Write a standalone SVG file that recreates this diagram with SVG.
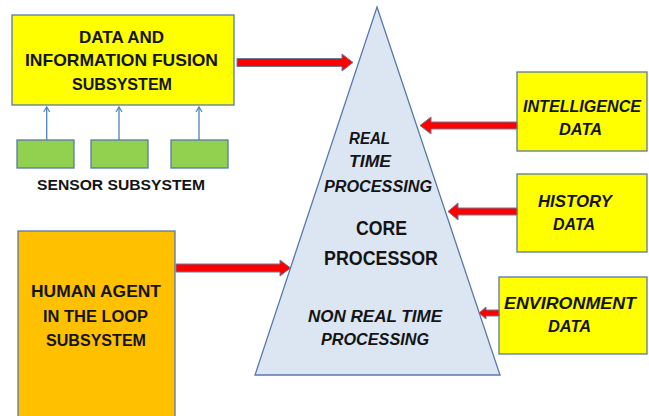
<svg xmlns="http://www.w3.org/2000/svg" width="649" height="416" viewBox="0 0 649 416">
<defs>
<style>
.box{stroke:#5a78a8;stroke-width:1.3}
.yellow{fill:#ffff00}
.green{fill:#92d050}
.orange{fill:#ffc000}
.tri{fill:#dce6f2;stroke:#5a78a8;stroke-width:1.3}
.t{font-family:"Liberation Sans",Arial,sans-serif;font-weight:bold;fill:#141414}
.i{font-style:italic}
.red{fill:#ff0000;stroke:#6a7a98;stroke-width:1}
.thin{stroke:#4f81bd;stroke-width:1.3;fill:none}
</style>
<marker id="chev" markerWidth="8" markerHeight="8" refX="6" refY="4" orient="auto" markerUnits="userSpaceOnUse">
<path d="M1,1 L6,4 L1,7" fill="none" stroke="#4f81bd" stroke-width="1.2"/>
</marker>
</defs>
<rect width="649" height="416" fill="#ffffff"/>

<g id="core-processor">
<polygon class="tri" points="377,7 500,375 255,375"/>
<text class="t i" x="349" y="144" font-size="16" textLength="41" lengthAdjust="spacingAndGlyphs">REAL</text>
<text class="t i" x="349" y="167" font-size="16" textLength="42" lengthAdjust="spacingAndGlyphs">TIME</text>
<text class="t i" x="324" y="191.5" font-size="16" textLength="108" lengthAdjust="spacingAndGlyphs">PROCESSING</text>
<text class="t" x="356" y="235" font-size="20" textLength="51" lengthAdjust="spacingAndGlyphs">CORE</text>
<text class="t" x="324" y="265" font-size="20" textLength="114" lengthAdjust="spacingAndGlyphs">PROCESSOR</text>
<text class="t i" x="308" y="321.5" font-size="16" textLength="134" lengthAdjust="spacingAndGlyphs">NON REAL TIME</text>
<text class="t i" x="321" y="345" font-size="16" textLength="108" lengthAdjust="spacingAndGlyphs">PROCESSING</text>
</g>

<g id="fusion">
<rect class="box yellow" x="12" y="15" width="222" height="90"/>
<text class="t" x="79" y="43" font-size="17" textLength="85" lengthAdjust="spacingAndGlyphs">DATA AND</text>
<text class="t" x="25" y="66" font-size="17" textLength="193" lengthAdjust="spacingAndGlyphs">INFORMATION FUSION</text>
<text class="t" x="72" y="89.5" font-size="17" textLength="100" lengthAdjust="spacingAndGlyphs">SUBSYSTEM</text>
</g>

<g id="sensor-subsystem">
<rect class="box green" x="17" y="140" width="57" height="28"/>
<rect class="box green" x="91" y="140" width="57" height="28"/>
<rect class="box green" x="171" y="140" width="57" height="28"/>
<text class="t" x="37" y="190" font-size="15" textLength="168" lengthAdjust="spacingAndGlyphs">SENSOR SUBSYSTEM</text>
</g>

<g id="human-agent">
<rect class="box orange" x="18" y="231" width="157" height="190"/>
<text class="t" x="31" y="297" font-size="16" textLength="130" lengthAdjust="spacingAndGlyphs">HUMAN AGENT</text>
<text class="t" x="43" y="321.5" font-size="16" textLength="105" lengthAdjust="spacingAndGlyphs">IN THE LOOP</text>
<text class="t" x="46" y="346" font-size="16" textLength="100" lengthAdjust="spacingAndGlyphs">SUBSYSTEM</text>
</g>

<g id="intelligence-data">
<rect class="box yellow" x="517" y="72" width="130" height="79"/>
<text class="t i" x="523" y="111.5" font-size="17" textLength="118" lengthAdjust="spacingAndGlyphs">INTELLIGENCE</text>
<text class="t i" x="559" y="135" font-size="17" textLength="43" lengthAdjust="spacingAndGlyphs">DATA</text>
</g>

<g id="history-data">
<rect class="box yellow" x="517" y="174" width="130" height="78"/>
<text class="t i" x="538" y="207" font-size="17" textLength="74" lengthAdjust="spacingAndGlyphs">HISTORY</text>
<text class="t i" x="553" y="230" font-size="17" textLength="42" lengthAdjust="spacingAndGlyphs">DATA</text>
</g>

<g id="environment-data">
<rect class="box yellow" x="499" y="277" width="148" height="77"/>
<text class="t i" x="504" y="309" font-size="17" textLength="132" lengthAdjust="spacingAndGlyphs">ENVIRONMENT</text>
<text class="t i" x="548" y="332" font-size="17" textLength="43" lengthAdjust="spacingAndGlyphs">DATA</text>
</g>

<g id="connectors">
<line class="thin" x1="46.7" y1="140" x2="46.7" y2="107" marker-end="url(#chev)"/>
<line class="thin" x1="119" y1="140" x2="119" y2="107" marker-end="url(#chev)"/>
<line class="thin" x1="199" y1="140" x2="199" y2="107" marker-end="url(#chev)"/>
<polygon class="red" points="237,58.5 342,58.5 342,54 353,62.5 342,71 342,66.5 237,66.5"/>
<polygon class="red" points="176,264 280,264 280,260 290.5,268 280,276 280,272 176,272"/>
<polygon class="red" points="517,122 431,122 431,117 420,125.5 431,134 431,129 517,129"/>
<polygon class="red" points="517,208 458,208 458,203 448,211.5 458,220 458,215 517,215"/>
<polygon class="red" points="499,310 486,310 486,307 479,313 486,319 486,316 499,316"/>
</g>
</svg>
